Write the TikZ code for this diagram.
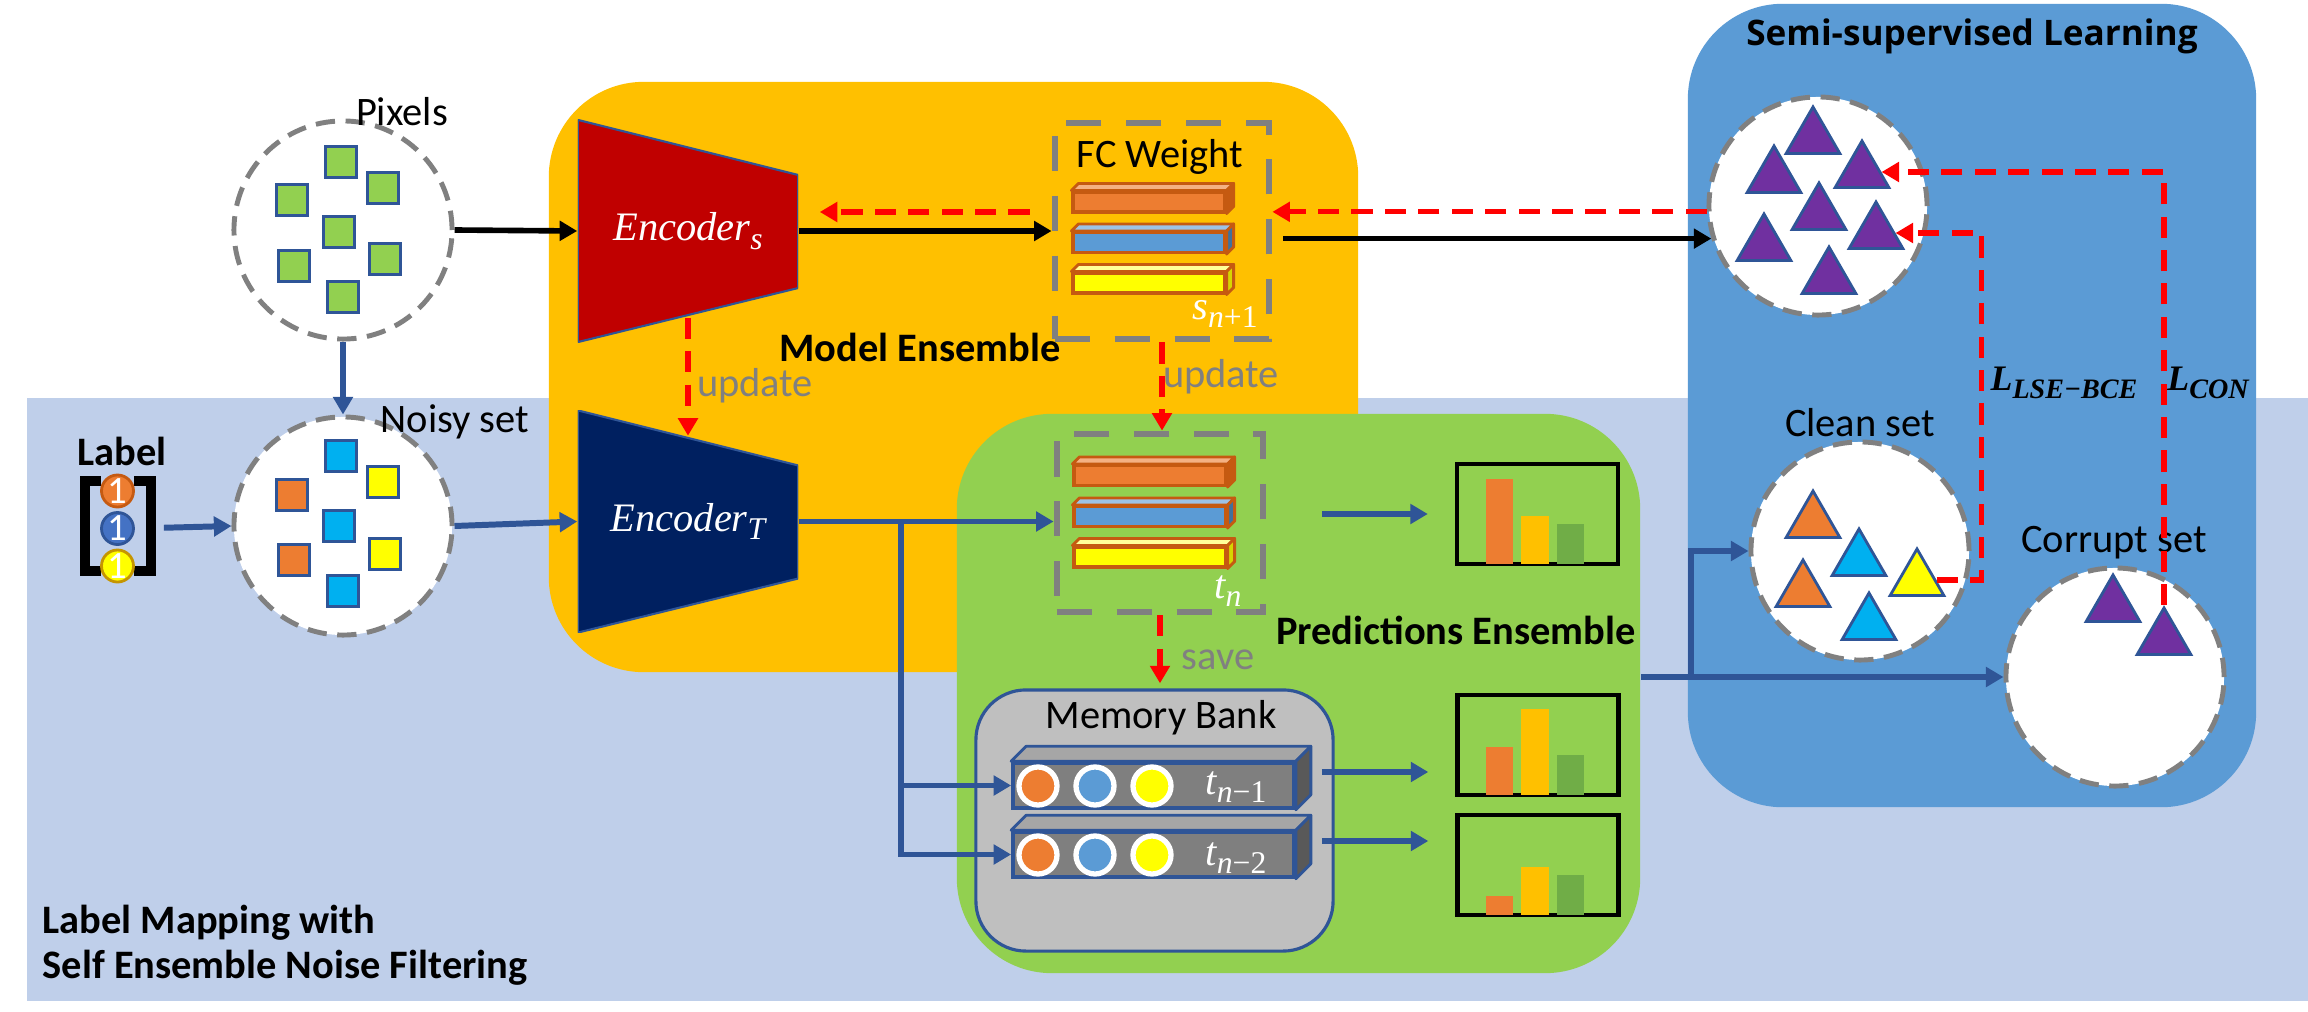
\documentclass[tikz,border=0pt]{standalone}
\usepackage{fontspec}
\setmainfont{Carlito}
\newfontfamily\serifital{Liberation Serif}
\newfontfamily\titlefont{Open Sans}
\usetikzlibrary{arrows.meta,shapes.geometric}

\definecolor{bgblue}{HTML}{BFCFEA}
\definecolor{meorange}{HTML}{FFC000}
\definecolor{pegreen}{HTML}{92D050}
\definecolor{ssblue}{HTML}{5B9BD5}
\definecolor{dashgray}{HTML}{808080}
\definecolor{edgeblue}{HTML}{2F5597}
\definecolor{encsred}{HTML}{C00000}
\definecolor{enctnavy}{HTML}{002060}
\definecolor{sqorange}{HTML}{ED7D31}
\definecolor{sqcyan}{HTML}{00B0F0}
\definecolor{sqyellow}{HTML}{FFFF00}
\definecolor{tripurple}{HTML}{7030A0}
\definecolor{barblue}{HTML}{5B9BD5}
\definecolor{baredge}{HTML}{C55A11}
\definecolor{fctopo}{HTML}{F4B183}
\definecolor{fctopb}{HTML}{9DC3E6}
\definecolor{fcsideb}{HTML}{41719C}
\definecolor{fctopy}{HTML}{FFFF99}
\definecolor{fcsidey}{HTML}{D6D600}
\definecolor{histgold}{HTML}{FFC000}
\definecolor{histgreen}{HTML}{70AD47}
\definecolor{bankgray}{HTML}{BFBFBF}
\definecolor{rowgray}{HTML}{7F7F7F}
\definecolor{rowtop}{HTML}{A6A6A6}
\definecolor{rowside}{HTML}{595959}
\definecolor{lblblue}{HTML}{4472C4}
\definecolor{lblyedge}{HTML}{C59500}

% italic symbol with a lowered index: base, index, index size
\newcommand{\ivar}[3]{{\serifital\itshape #1}\raisebox{-2.4pt}{\fontsize{#3}{#3}\selectfont\serifital\itshape #2}}

% top and side faces of a flat box node
\newcommand{\barfaces}[5]{%
  \filldraw[fill=#3, draw=#5, line width=0.8pt, line join=round]
    (#1.north west) -- ++(#2,-#2) -- ([shift={(#2,-#2)}]#1.north east) -- (#1.north east) -- cycle;
  \filldraw[fill=#4, draw=#5, line width=0.8pt, line join=round]
    (#1.north east) -- ([shift={(#2,-#2)}]#1.north east) -- ([shift={(#2,-#2)}]#1.south east) -- (#1.south east) -- cycle;}

% three bars of a histogram box
\newcommand{\histbars}[4]{%
  \fill[sqorange] ([shift={(31,-2)}]#1.south west) rectangle ++(27,-#2);
  \fill[histgold] ([shift={(66,-2)}]#1.south west) rectangle ++(28,-#3);
  \fill[histgreen] ([shift={(102,-2)}]#1.south west) rectangle ++(27,-#4);}

\tikzset{
  txt/.style={font=\fontsize{11.5}{14}\selectfont, inner sep=0pt},
  boldtxt/.style={inner sep=0pt, font=\fontsize{11.5}{12.8}\selectfont\bfseries},
  updtxt/.style={txt, text=dashgray},
  losstxt/.style={inner sep=0pt, font=\fontsize{10.2}{12}\selectfont\bfseries},
  region/.style={rounded corners=0.95cm, inner sep=0pt},
  setcircle/.style={circle, draw=dashgray, fill=white, line width=1.4pt,
    dash pattern=on 5.5pt off 3pt, minimum size=2.18cm, inner sep=0pt},
  pixsq/.style={draw=edgeblue, line width=0.8pt, minimum size=0.31cm, inner sep=0pt, fill=#1},
  settri/.style={regular polygon, regular polygon sides=3, draw=edgeblue, line width=0.8pt,
    minimum size=0.62cm, inner sep=0pt, fill=#1},
  encoder/.style={minimum width=2.2cm, minimum height=2.22cm, inner sep=0pt, text=white,
    font=\fontsize{11.5}{14}\selectfont,
    path picture={\filldraw[fill=#1, draw=edgeblue, line width=0.6pt]
      (path picture bounding box.north west)
      -- ([yshift=-0.55cm]path picture bounding box.north east)
      -- ([yshift=0.54cm]path picture bounding box.south east)
      -- (path picture bounding box.south west) -- cycle;}},
  wbox/.style={draw=dashgray, line width=1.9pt, dash pattern=on 10pt off 7pt, inner sep=0pt},
  fcbar/.style={draw=baredge, line width=0.9pt, minimum width=1.52cm, minimum height=0.2cm,
    inner sep=0pt, fill=#1},
  membank/.style={draw=edgeblue, fill=bankgray, line width=0.9pt, rounded corners=0.5cm,
    minimum width=3.57cm, minimum height=2.61cm},
  memrow/.style={draw=edgeblue, fill=rowgray, line width=1pt, minimum width=2.81cm,
    minimum height=0.45cm, inner sep=0pt},
  bankdot/.style={circle, draw=white, line width=1.5pt, minimum size=0.38cm, inner sep=0pt, fill=#1},
  histbox/.style={draw=black, line width=1.2pt, minimum width=1.61cm, minimum height=1cm, inner sep=0pt},
  lbldot/.style={circle, minimum size=0.32cm, inner sep=0pt, line width=0.8pt, text=white,
    font=\fontsize{11}{12}\selectfont},
  bracket/.style={line width=2.8pt, black},
  flow/.style={line width=1.6pt, -{Triangle[length=5pt,width=5.5pt]}},
  blackflow/.style={flow, black},
  blueflow/.style={flow, edgeblue, line width=1.7pt},
  redflow/.style={flow, red, line width=1.5pt, dash pattern=on 6pt off 3.5pt}
}

\begin{document}
\begin{tikzpicture}[x=0.01cm, y=-0.01cm]
  \useasboundingbox (0,0) rectangle (2308,1012);

  % background regions
  \fill[bgblue] (27,398) rectangle (2308,1001);
  \node[region, fill=meorange, minimum width=8.09cm, minimum height=5.9cm] (modelreg) at (953.5,377) {};
  \node[region, fill=pegreen, minimum width=6.83cm, minimum height=5.59cm] (predreg) at (1298.5,693.5) {};
  \node[region, fill=ssblue, minimum width=5.68cm, minimum height=8.03cm] (semireg) at (1972,405.5) {};

  \node[boldtxt] (modellbl) at (920,347) {Model Ensemble};
  \node[boldtxt] (predlbl) at (1456,630) {Predictions Ensemble};
  \node[inner sep=0pt, font=\fontsize{10}{12}\selectfont\titlefont\bfseries] (semilbl) at (1972,36) {Semi-supervised Learning};
  \node[boldtxt, align=left, anchor=west] (maplbl) at (42,945.5) {Label Mapping with\\Self Ensemble Noise Filtering};

  % pixels and noisy set
  \node[setcircle] (pixels) at (343,230) {};
  \node[txt] (pixlbl) at (402,112) {Pixels};
  \path
    (341,162) node[pixsq=pegreen] (p1) {}
    (383,188) node[pixsq=pegreen] (p2) {}
    (292,200) node[pixsq=pegreen] (p3) {}
    (339,232) node[pixsq=pegreen] (p4) {}
    (294,266) node[pixsq=pegreen] (p5) {}
    (385,259) node[pixsq=pegreen] (p6) {}
    (343,297) node[pixsq=pegreen] (p7) {};

  \node[setcircle] (noisy) at (343,526) {};
  \node[txt] (noisylbl) at (455,422) {Noisy set};
  \path
    (341,456) node[pixsq=sqcyan] (n1) {}
    (383,482) node[pixsq=sqyellow] (n2) {}
    (292,495) node[pixsq=sqorange] (n3) {}
    (339,526) node[pixsq=sqcyan] (n4) {}
    (294,560) node[pixsq=sqorange] (n5) {}
    (385,554) node[pixsq=sqyellow] (n6) {}
    (343,591) node[pixsq=sqcyan] (n7) {};

  % label vector
  \node[boldtxt] (lbltxt) at (122,451) {Label};
  \draw[bracket] (101,481) -| (85,571) -- (101,571);
  \draw[bracket] (134,481) -| (151,571) -- (134,571);
  \node[lbldot, fill=sqorange, draw=baredge] (lc1) at (117.5,491) {1};
  \node[lbldot, fill=lblblue, draw=edgeblue] (lc2) at (117.5,528.5) {1};
  \node[lbldot, fill=sqyellow, draw=lblyedge] (lc3) at (117.5,566) {1};

  % encoders
  \node[encoder=encsred] (encs) at (688,231) {\ivar{Encoder}{s}{9}};
  \node[encoder=enctnavy] (enct) at (688,521.5) {\ivar{Encoder}{T}{9}};

  % FC weight and teacher weight
  \node[wbox, minimum width=2.14cm, minimum height=2.16cm] (fc) at (1162,231) {};
  \node[txt] (fclbl) at (1160,157) {FC Weight};
  \node[fcbar=sqorange] (fc1) at (1149,202) {};
  \barfaces{fc1}{7}{fctopo}{baredge}{baredge}
  \node[fcbar=barblue] (fc2) at (1149,242.5) {};
  \barfaces{fc2}{7}{fctopb}{fcsideb}{baredge}
  \node[fcbar=sqyellow] (fc3) at (1149,283) {};
  \barfaces{fc3}{7}{fctopy}{fcsidey}{baredge}
  \node[txt, text=white] (slbl) at (1225,314) {\ivar{s}{n\upshape +1}{9}};

  \node[wbox, minimum width=2.06cm, minimum height=1.78cm] (tn) at (1160,523) {};
  \node[fcbar=sqorange] (tn1) at (1150,475.5) {};
  \barfaces{tn1}{7}{fctopo}{baredge}{baredge}
  \node[fcbar=barblue] (tn2) at (1150,516.5) {};
  \barfaces{tn2}{7}{fctopb}{fcsideb}{baredge}
  \node[fcbar=sqyellow] (tn3) at (1150,557) {};
  \barfaces{tn3}{7}{fctopy}{fcsidey}{baredge}
  \node[txt, text=white] (tlbl) at (1228,591) {\ivar{t}{n}{9}};

  % memory bank
  \node[membank] (mem) at (1154.5,820.5) {};
  \node[txt] (memlbl) at (1161,718) {Memory Bank};
  \node[memrow] (r1) at (1153.5,785.5) {};
  \barfaces{r1}{15}{rowtop}{rowside}{edgeblue}
  \node[bankdot=sqorange] (r1a) at (1038,786) {};
  \node[bankdot=barblue] (r1b) at (1095,786) {};
  \node[bankdot=sqyellow] (r1c) at (1152,786) {};
  \node[txt, text=white] (r1t) at (1236,787) {\ivar{t}{n\upshape −1}{9}};
  \node[memrow] (r2) at (1153.5,854.5) {};
  \barfaces{r2}{15}{rowtop}{rowside}{edgeblue}
  \node[bankdot=sqorange] (r2a) at (1038,855) {};
  \node[bankdot=barblue] (r2b) at (1095,855) {};
  \node[bankdot=sqyellow] (r2c) at (1152,855) {};
  \node[txt, text=white] (r2t) at (1236,858) {\ivar{t}{n\upshape −2}{9}};

  % predictions
  \node[histbox] (h1) at (1537.5,514) {};
  \histbars{h1}{85}{48}{40}
  \node[histbox] (h2) at (1538,745) {};
  \histbars{h2}{48}{86}{40}
  \node[histbox] (h3) at (1538,865) {};
  \histbars{h3}{19}{48}{40}

  % semi-supervised sets
  \node[setcircle] (topset) at (1818,206) {};
  \path
    (1813,138) node[settri=tripurple] (t1) {}
    (1774,177) node[settri=tripurple] (t2) {}
    (1862,172) node[settri=tripurple] (t3) {}
    (1819,214) node[settri=tripurple] (t4) {}
    (1764,245) node[settri=tripurple] (t5) {}
    (1876,233) node[settri=tripurple] (t6) {}
    (1829,278) node[settri=tripurple] (t7) {};

  \node[setcircle] (clean) at (1860,551) {};
  \node[txt] (cleanlbl) at (1860,423) {Clean set};
  \path
    (1813,522) node[settri=sqorange] (co1) {}
    (1859,560) node[settri=sqcyan] (cb1) {}
    (1803,591) node[settri=sqorange] (co2) {}
    (1917,580) node[settri=sqyellow] (cy) {}
    (1869,624) node[settri=sqcyan] (cb2) {};

  \node[setcircle] (corrupt) at (2115,677) {};
  \node[txt] (corruptlbl) at (2114,543) {Corrupt set};
  \path
    (2113,606) node[settri=tripurple] (cp1) {}
    (2164,639) node[settri=tripurple] (cp2) {};

  \node[losstxt] (lbce) at (2064,383) {\ivar{L}{LSE−BCE}{8}};
  \node[losstxt] (lcon) at (2208,383) {\ivar{L}{CON}{8}};

  % black connectors
  \draw[blackflow] (pixels.east) -- (encs.west);
  \draw[blackflow] (encs.east) -- (fc.west);
  \draw[blackflow, shorten <=0.11cm] (topset.197 -| fc.east) -- (topset.197);

  % red dashed connectors
  \draw[redflow, shorten <=0.22cm, shorten >=0.21cm] ([yshift=0.19cm]fc.west) -- ([yshift=0.19cm]encs.east);
  \draw[redflow] (topset.183) -- (topset.183 -| fc.east);
  \draw[redflow] ([yshift=0.25cm]encs.south) -- ([yshift=-0.26cm]enct.north);
  \node[updtxt] (upd1) at (755,386) {update};
  \draw[redflow] (fc.south) -- (fc.south |- tn.north);
  \node[updtxt] (upd2) at (1221,377) {update};
  \draw[redflow, shorten >=0.05cm] (tn.south) -- (tn.south |- mem.north);
  \node[updtxt] (savelbl) at (1218,660) {save};
  \draw[redflow] (cy.east) -- ++(45,0) |- (t6);
  \draw[redflow] (cp2.corner 1) |- (t3);

  % blue connectors
  \draw[blueflow] (pixels.south) -- (noisy.north);
  \draw[blueflow, shorten <=0.29cm] (lc2.east) -- (noisy.west);
  \draw[blueflow] (noisy.east) -- (enct.west);
  \draw[blueflow] (enct.east) -- (enct.east -| tn.west);
  \coordinate (fork) at (901,521.5);
  \draw[blueflow] (fork) |- (r1.west);
  \draw[blueflow] (fork) |- (r2.west);
  \draw[blueflow, shorten <=0.56cm, shorten >=0.27cm] (h1.west -| tn.east) -- (h1.west);
  \draw[blueflow, shorten <=0.26cm, shorten >=0.27cm] ([yshift=0.135cm]r1.east) -- ([yshift=0.135cm]r1.east -| h2.west);
  \draw[blueflow, shorten <=0.26cm, shorten >=0.27cm] ([yshift=0.135cm]r2.east) -- ([yshift=0.135cm]r2.east -| h3.west);
  \coordinate (split) at (1691,677);
  \draw[blueflow] (corrupt.west -| predreg.east) -- (corrupt.west);
  \draw[blueflow] (split) |- (clean.west);
\end{tikzpicture}
\end{document}
